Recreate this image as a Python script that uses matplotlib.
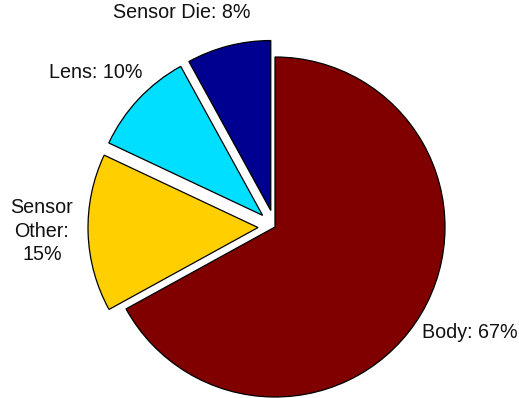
import matplotlib
matplotlib.use("Agg")
import matplotlib.pyplot as plt

# Data (MATLAB pie order: counterclockwise from top)
categories = ["Sensor Die", "Lens", "Sensor\nOther", "Body"]
shares = [8, 10, 15, 67]
explode = [0.1, 0.1, 0.1, 0.0]
colors = ["#000090", "#00DFFF", "#FFCF00", "#800000"]

# label nudges (data units) to mimic MATLAB label placement
nudges = [(-0.223, 0.0), (-0.105, 0.016), (-0.072, 0.017), (0.114, -0.007)]

plt.rcParams['font.family'] = ['Liberation Sans', 'DejaVu Sans']

fig = plt.figure(figsize=(5.19, 3.98), dpi=100)
ax = fig.add_axes([0, 0, 1, 1])

labels = []
for c, s in zip(categories, shares):
    sep = "\n" if "\n" in c else " "
    labels.append(f"{c}:{sep}{s}%")

wedges, texts = ax.pie(shares, labels=labels, explode=explode, colors=colors,
                       startangle=90, counterclock=True, labeldistance=1.2,
                       wedgeprops=dict(edgecolor="black", linewidth=0.9),
                       textprops=dict(fontsize=14.2, color="#111111"))

for t, (dx, dy) in zip(texts, nudges):
    x, y = t.get_position()
    t.set_position((x + dx, y + dy))
    t.set_ha("center")
    t.set_va("center")
    t.set_multialignment("center")
    t.set_linespacing(1.3)

ax.set_aspect("auto")
ax.set_xlim(-275 / 170, (519 - 275) / 170)
ax.set_ylim(-(398 - 227) / 170, 227 / 170)
ax.axis("off")

fig.savefig("out.png", dpi=100)
